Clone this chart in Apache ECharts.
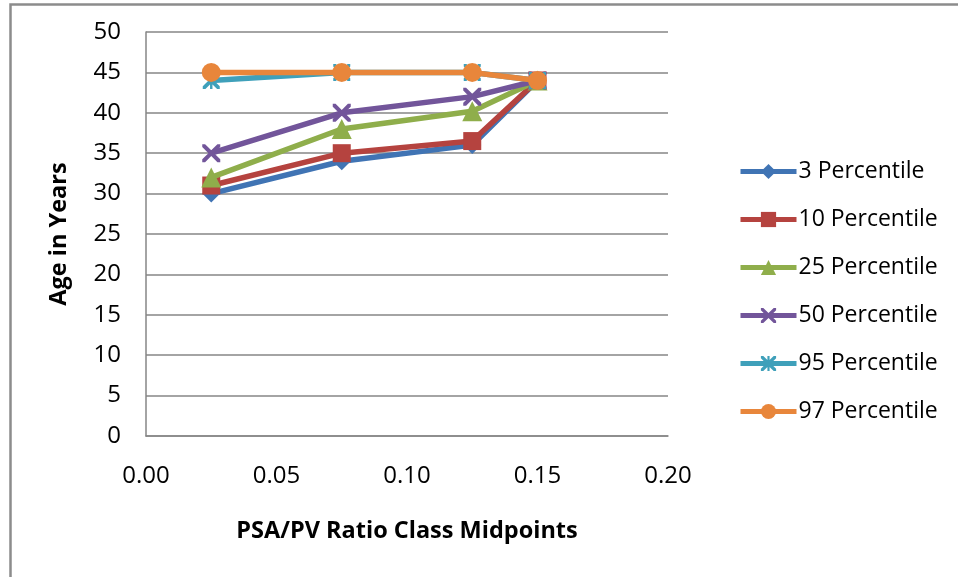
<!DOCTYPE html>
<html>
<head>
<meta charset="utf-8">
<script src="https://cdn.jsdelivr.net/npm/echarts@6/dist/echarts.min.js"></script>
<style>
  html, body { margin: 0; padding: 0; background: #fff; }
  #chart { width: 958px; height: 577px; }
</style>
</head>
<body>
<div id="chart"></div>
<script>
// PSA/PV ratio class midpoints (x) and age percentiles (y)
const midpoints = [0.025, 0.075, 0.125, 0.15];
const p3  = [30, 34, 36, 44];
const p10 = [31, 35, 36.5, 44];
const p25 = [32, 38, 40.2, 44];
const p50 = [35, 40, 42, 44];
const p95 = [44, 45, 45, 44];
const p97 = [45, 45, 45, 44];
const seriesNames = ['3 Percentile', '10 Percentile', '25 Percentile', '50 Percentile', '95 Percentile', '97 Percentile'];

const FONT = '"Open Sans", "Noto Sans", sans-serif';

// marker shapes
const X_PATH = 'path://M0,0 L2.2,0 L7,4.8 L11.8,0 L14,0 L14,2.2 L9.2,7 L14,11.8 L14,14 L11.8,14 L7,9.2 L2.2,14 L0,14 L0,11.8 L4.8,7 L0,2.2 Z';
const STAR_PATH = 'path://M0,0 L2.2,0 L7,4.8 L11.8,0 L14,0 L14,2.2 L9.2,7 L14,11.8 L14,14 L11.8,14 L7,9.2 L2.2,14 L0,14 L0,11.8 L4.8,7 L0,2.2 Z M6,0 L8,0 L8,14 L6,14 Z';

const styles = [
  { color: '#4074b4', symbol: 'diamond', size: 18 },
  { color: '#b5433f', symbol: 'rect', size: 18 },
  { color: '#8fae4b', symbol: 'triangle', size: 20 },
  { color: '#72559a', symbol: X_PATH, size: 18 },
  { color: '#3fa0ba', symbol: STAR_PATH, size: 17 },
  { color: '#e8863b', symbol: 'circle', size: 19 }
];
const values = [p3, p10, p25, p50, p95, p97];

const series = values.map((vals, i) => ({
  name: seriesNames[i],
  type: 'line',
  data: vals.map((v, k) => [midpoints[k], v]),
  symbol: styles[i].symbol,
  symbolSize: styles[i].size,
  showSymbol: true,
  lineStyle: { color: styles[i].color, width: 5.5 },
  itemStyle: { color: styles[i].color, borderWidth: 0 },
  z: 2 + i,
  animation: false
}));

const chart = echarts.init(document.getElementById('chart'), null, { renderer: 'canvas' });
chart.setOption({
  backgroundColor: '#ffffff',
  animation: false,
  grid: { left: 146, top: 32, right: 290, bottom: 141, containLabel: false },
  xAxis: {
    type: 'value',
    min: 0, max: 0.2, interval: 0.05,
    name: 'PSA/PV Ratio Class Midpoints',
    nameLocation: 'middle',
    nameGap: 83,
    nameTextStyle: { fontFamily: FONT, fontSize: 23.5, fontWeight: 'bold', color: '#000' },
    axisLine: { show: true, lineStyle: { color: '#868686', width: 1.5 } },
    axisTick: { show: false },
    splitLine: { show: false },
    axisLabel: {
      margin: 28,
      fontFamily: FONT, fontSize: 24, color: '#000',
      formatter: v => v.toFixed(2)
    }
  },
  yAxis: {
    type: 'value',
    min: 0, max: 50, interval: 5,
    name: 'Age in Years',
    nameLocation: 'middle',
    nameGap: 75,
    nameTextStyle: { fontFamily: FONT, fontSize: 23.5, fontWeight: 'bold', color: '#000' },
    axisLine: { show: true, lineStyle: { color: '#868686', width: 1.5 } },
    axisTick: { show: false },
    splitLine: { show: true, lineStyle: { color: '#868686', width: 1.5 } },
    axisLabel: { margin: 25, fontFamily: FONT, fontSize: 24, color: '#000' }
  },
  legend: {
    orient: 'vertical',
    left: 733,
    top: 155,
    itemWidth: 56,
    itemHeight: 19,
    itemGap: 25,
    lineStyle: { width: 5 },
    textStyle: { fontFamily: FONT, fontSize: 23, color: '#000', padding: [0, 0, 0, -3] },
    data: seriesNames
  },
  graphic: [{
    type: 'rect',
    left: 8, top: 2,
    shape: { width: 1000, height: 1000 },
    style: { fill: 'none', stroke: '#8c8c8c', lineWidth: 2.5 },
    silent: true
  }],
  series: series
});
</script>
</body>
</html>
